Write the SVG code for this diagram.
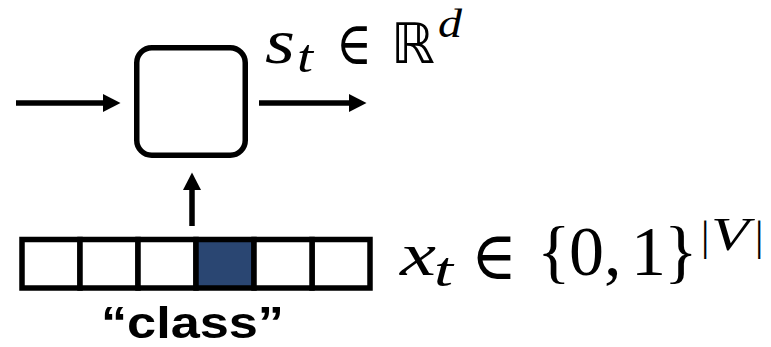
<svg xmlns="http://www.w3.org/2000/svg" width="771" height="347" viewBox="0 0 771 347">
  <style>
    .edge { stroke: #000; stroke-width: 5.5; fill: none; }
    .cellbox { stroke: #000; stroke-width: 5.5; fill: #fff; }
    .hot { fill: #2a4672; }
    .mi { font-family: "Liberation Serif", "Times New Roman", serif; font-style: italic; fill: #000; }
    .mr { font-family: "Liberation Serif", "Times New Roman", serif; fill: #000; }
    .op { font-family: "DejaVu Serif", "DejaVu Sans", serif; fill: #000; }
    .bb { font-family: "DejaVu Sans", sans-serif; fill: #000; }
    .word { font-family: "Liberation Sans", Arial, sans-serif; font-weight: bold; fill: #000; }
  </style>
  <defs>
    <marker id="arrow" markerUnits="userSpaceOnUse" markerWidth="18" markerHeight="19" viewBox="0 0 18 19" refX="0.5" refY="9.5" orient="auto">
      <path d="M0,0.5 L17.5,9.5 L0,18.5 z" fill="#000"/>
    </marker>
  </defs>

  <!-- recurrent unit -->
  <g id="rnn-cell">
    <rect x="136.75" y="47.75" width="108.5" height="107.5" rx="15" ry="15" class="edge"/>
  </g>

  <!-- one-hot input vector -->
  <g id="one-hot">
    <rect x="22" y="239.5" width="58" height="48.5" class="cellbox"/>
    <rect x="80" y="239.5" width="58" height="48.5" class="cellbox"/>
    <rect x="138" y="239.5" width="58" height="48.5" class="cellbox"/>
    <rect x="196" y="239.5" width="58" height="48.5" class="cellbox hot"/>
    <rect x="312" y="239.5" width="58" height="48.5" class="cellbox"/>
    <rect x="254" y="239.5" width="58" height="48.5" class="cellbox"/>
  </g>

  <!-- connectors -->
  <g id="connectors">
    <line x1="16" y1="103" x2="103.5" y2="103" class="edge" marker-end="url(#arrow)"/>
    <line x1="259" y1="103" x2="349.5" y2="103" class="edge" marker-end="url(#arrow)"/>
    <line x1="192" y1="226" x2="192" y2="189.5" class="edge" marker-end="url(#arrow)"/>
  </g>

  <!-- hidden state label -->
  <g id="label-state">
    <text class="mi" x="265" y="63" font-size="64" textLength="30" lengthAdjust="spacingAndGlyphs">s</text>
    <text class="mi" x="297" y="72" font-size="46" textLength="16" lengthAdjust="spacingAndGlyphs">t</text>
    <text class="op" x="336" y="64" font-size="60" textLength="36" lengthAdjust="spacingAndGlyphs">∈</text>
    <text class="bb" x="391" y="63" font-size="56" textLength="44" lengthAdjust="spacingAndGlyphs">ℝ</text>
    <text class="mi" x="438" y="37" font-size="40" textLength="24" lengthAdjust="spacingAndGlyphs">d</text>
  </g>

  <!-- input label -->
  <g id="label-input">
    <text class="mi" x="400" y="275" font-size="62" textLength="36" lengthAdjust="spacingAndGlyphs">x</text>
    <text class="mi" x="434" y="286" font-size="48" textLength="19" lengthAdjust="spacingAndGlyphs">t</text>
    <text class="op" x="471" y="279" font-size="68" textLength="46" lengthAdjust="spacingAndGlyphs">∈</text>
    <text class="mr" x="537" y="275" font-size="70">{</text>
    <text class="mr" x="569" y="275" font-size="70">0</text>
    <text class="mr" x="604" y="275" font-size="70">,</text>
    <text class="mr" x="631" y="275" font-size="70">1</text>
    <text class="mr" x="664" y="275" font-size="70">}</text>
    <text class="mr" x="701" y="250" font-size="42">|</text>
    <text class="mi" x="711" y="250" font-size="46" textLength="38" lengthAdjust="spacingAndGlyphs">V</text>
    <text class="mr" x="755" y="250" font-size="42">|</text>
  </g>

  <!-- word label -->
  <g id="label-word">
    <text class="word" x="101" y="338" font-size="45" textLength="183" lengthAdjust="spacingAndGlyphs">“class”</text>
  </g>
</svg>
